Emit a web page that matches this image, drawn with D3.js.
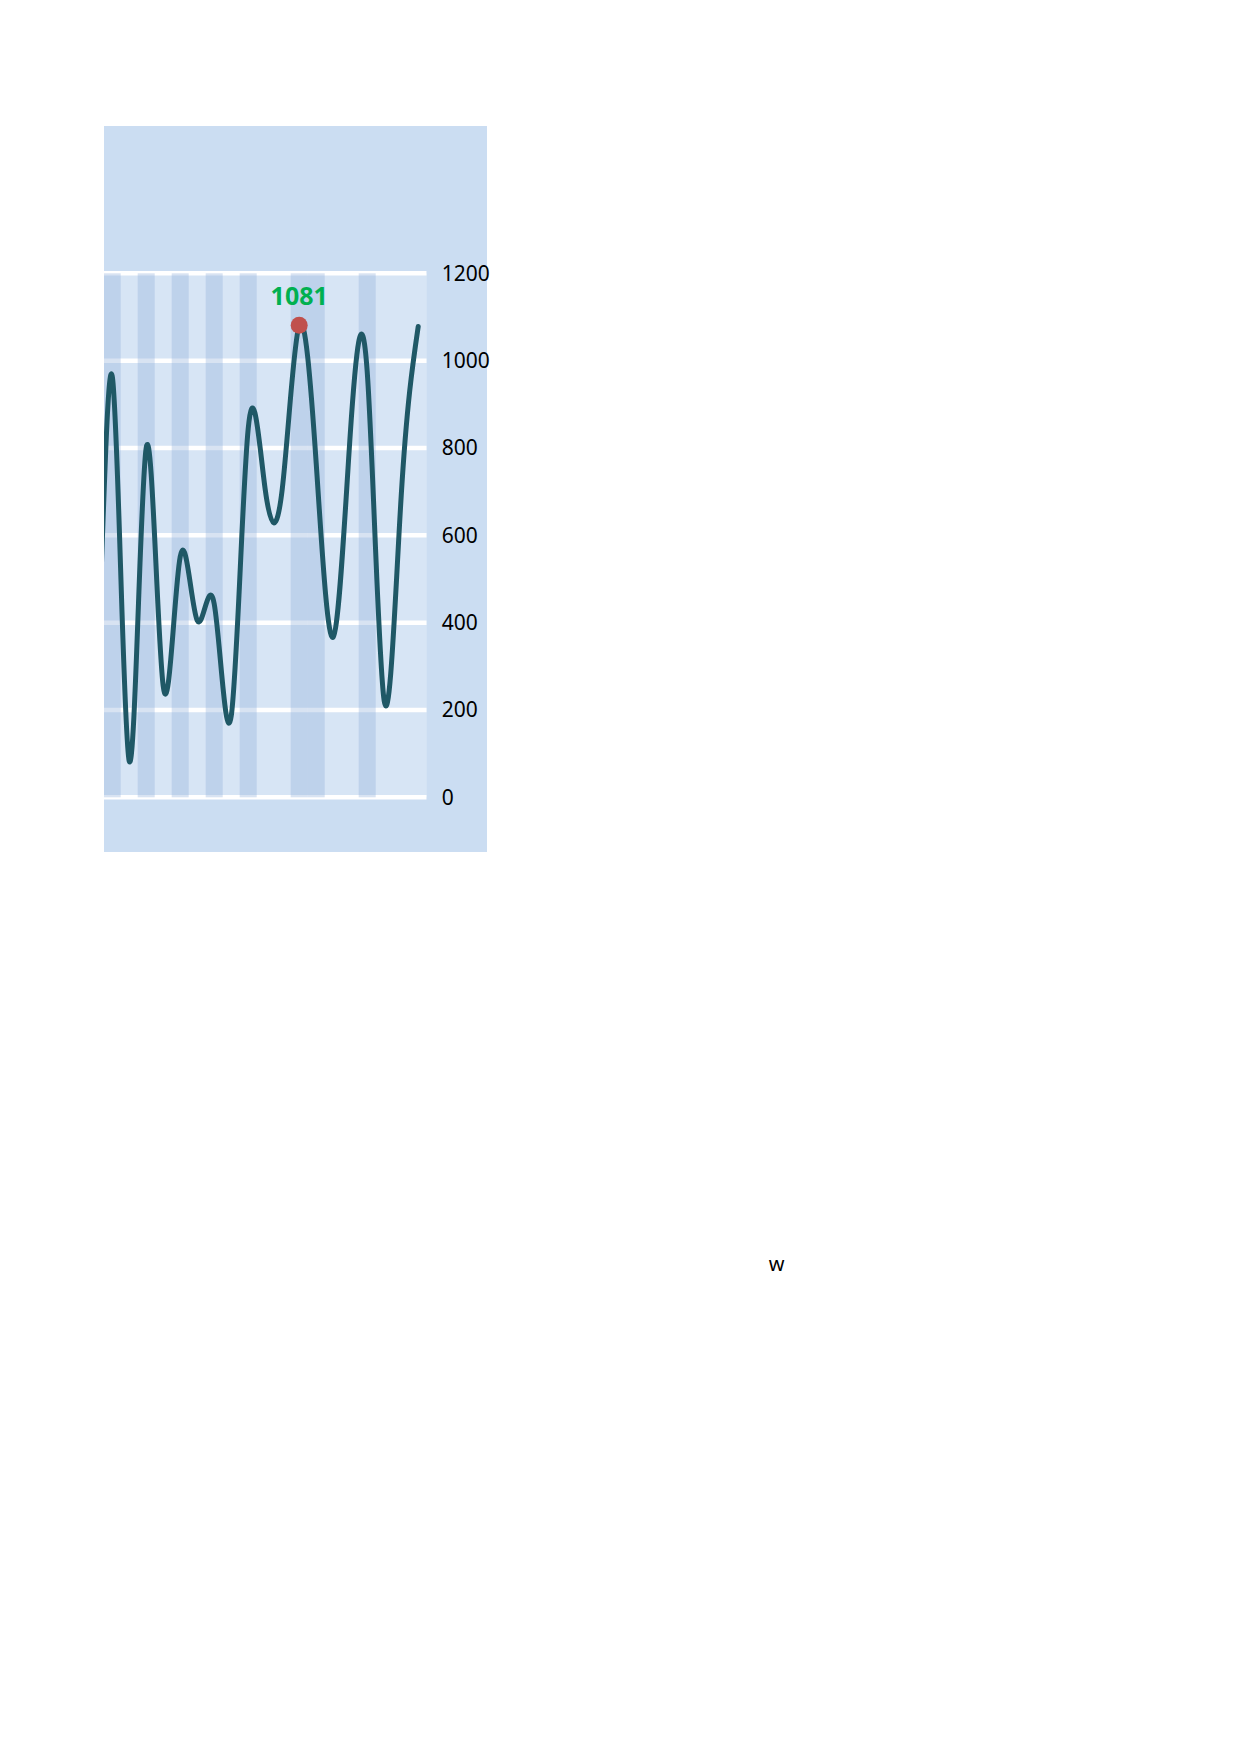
<!DOCTYPE html>
<html>
<head>
<meta charset="utf-8">
<script src="https://cdn.jsdelivr.net/npm/d3@7"></script>
<style>
  body { margin: 0; background: #ffffff; }
  svg { display: block; }
</style>
</head>
<body>
<svg id="chart"></svg>
<script>
"use strict";

//chart data (first two points sit left of the visible plot edge)
const categories = ["P0", "P1", "P2", "P3", "P4", "P5", "P6", "P7", "P8", "P9", "P10",
  "P11", "P12", "P13", "P14", "P15", "P16", "P17", "P18", "P19", "P20"];
const values = [560, 200, 965, 83, 800, 255, 551, 405, 443, 186, 844,
  705, 705, 1081, 765, 367, 830, 975, 221, 690, 1078];
const highlighted = ["P2", "P4", "P6", "P8", "P10", "P13", "P14", "P17"];
const yTicks = [0, 200, 400, 600, 800, 1000, 1200];
const strayLabel = "w";

//layout
const pageWidth = 1240;
const pageHeight = 1754;
const panel = { left: 104, top: 126, right: 487, bottom: 852 };
const plot = { left: 104, top: 273.3, right: 426.7, bottom: 797.3 };
const step = 17;

const svg = d3.select("#chart")
  .attr("width", pageWidth)
  .attr("height", pageHeight);

svg.append("rect")
  .attr("width", pageWidth)
  .attr("height", pageHeight)
  .attr("fill", "#ffffff");

//outer panel
svg.append("rect")
  .attr("x", panel.left)
  .attr("y", panel.top)
  .attr("width", panel.right - panel.left)
  .attr("height", panel.bottom - panel.top)
  .attr("fill", "#cbddf2");

//plot area, the x range runs past its left edge so the first points are cut
svg.append("rect")
  .attr("x", plot.left)
  .attr("y", plot.top)
  .attr("width", plot.right - plot.left)
  .attr("height", plot.bottom - plot.top)
  .attr("fill", "#d7e5f5");

svg.append("clipPath")
  .attr("id", "plotClip")
  .append("rect")
  .attr("x", plot.left)
  .attr("y", plot.top - 30)
  .attr("width", plot.right - plot.left)
  .attr("height", plot.bottom - plot.top + 60);

const x = d3.scaleBand()
  .domain(categories)
  .range([plot.right - step * categories.length, plot.right])
  .padding(0);

const y = d3.scaleLinear()
  .domain([0, 1200])
  .range([plot.bottom, plot.top]);

const data = categories.map((c, i) => ({ name: c, value: values[i] }));
const cx = d => x(d.name) + x.bandwidth() / 2;

const inner = svg.append("g").attr("clip-path", "url(#plotClip)");

//gridlines
inner.selectAll("line.grid")
  .data(yTicks)
  .enter()
  .append("line")
  .attr("class", "grid")
  .attr("x1", plot.left)
  .attr("x2", plot.right)
  .attr("y1", d => y(d))
  .attr("y2", d => y(d))
  .attr("stroke", "#ffffff")
  .attr("stroke-width", 4.5);

//highlight bands sit on top of the gridlines
inner.selectAll("rect.band")
  .data(highlighted)
  .enter()
  .append("rect")
  .attr("class", "band")
  .attr("x", d => x(d))
  .attr("y", y(1200))
  .attr("width", x.bandwidth())
  .attr("height", y(0) - y(1200))
  .attr("fill", "#8fb0d9")
  .attr("opacity", 0.35);

//line
const line = d3.line()
  .x(cx)
  .y(d => y(d.value))
  .curve(d3.curveNatural);

inner.append("path")
  .datum(data)
  .attr("d", line)
  .attr("fill", "none")
  .attr("stroke", "#1f5866")
  .attr("stroke-width", 5)
  .attr("stroke-linejoin", "round")
  .attr("stroke-linecap", "round");

//maximum marker
const maxPoint = data.reduce((a, b) => (b.value > a.value ? b : a));
svg.append("circle")
  .attr("cx", cx(maxPoint))
  .attr("cy", y(maxPoint.value))
  .attr("r", 8.5)
  .attr("fill", "#c0504d");

svg.append("text")
  .attr("x", cx(maxPoint))
  .attr("y", y(maxPoint.value) - 20.7)
  .attr("text-anchor", "middle")
  .attr("font-family", "'Noto Sans', sans-serif")
  .attr("font-size", 25)
  .attr("font-weight", "bold")
  .attr("fill", "#00b050")
  .text(d3.format("d")(maxPoint.value));

//right axis
const axisRight = d3.axisRight(y)
  .tickValues(yTicks)
  .tickSize(0)
  .tickPadding(15)
  .tickFormat(d3.format("d"));

const axis = svg.append("g")
  .attr("transform", "translate(" + plot.right + ",0)")
  .call(axisRight);
axis.select(".domain").remove();
axis.selectAll("text")
  .attr("font-family", "'Noto Sans', sans-serif")
  .attr("font-size", 21)
  .attr("fill", "#000000");

//stray label left on the page
svg.append("text")
  .attr("x", 776.5)
  .attr("y", 1271)
  .attr("text-anchor", "middle")
  .attr("font-family", "'Noto Sans', sans-serif")
  .attr("font-size", 20)
  .attr("fill", "#000000")
  .text(strayLabel);
</script>
</body>
</html>
